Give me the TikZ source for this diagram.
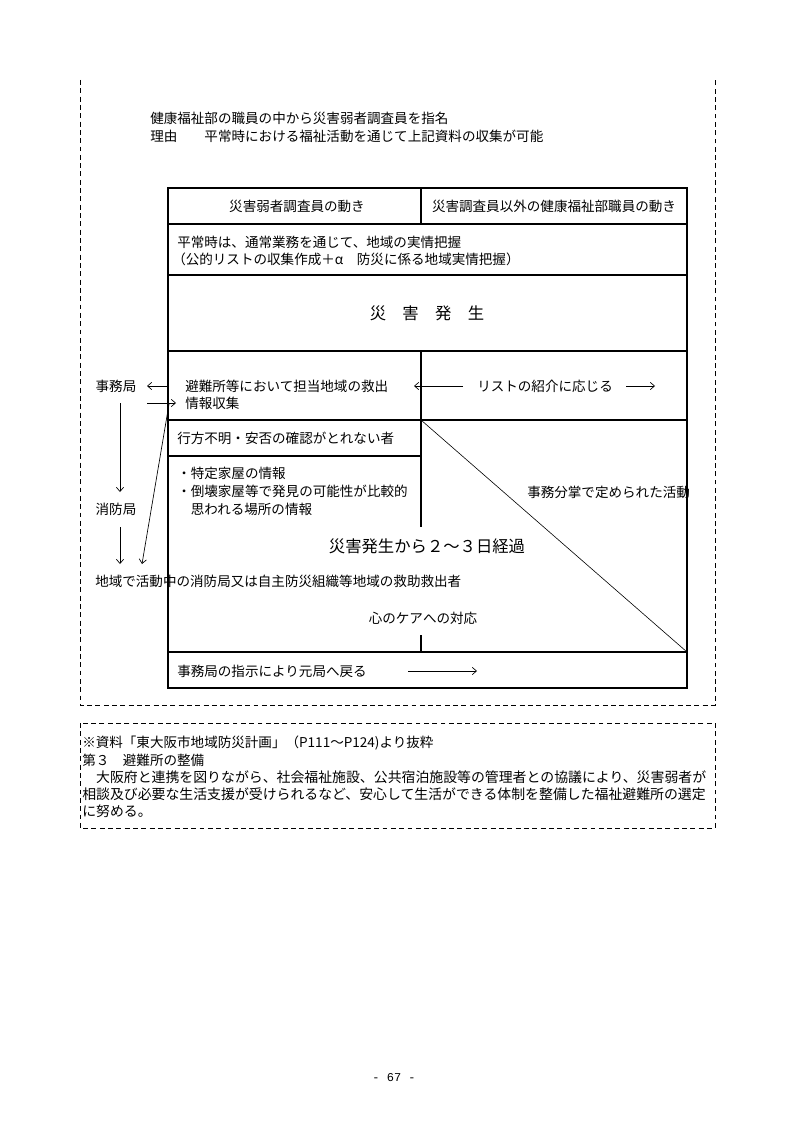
\documentclass[tikz,border=0pt]{standalone}
\usepackage{fontspec}
\setmainfont{Noto Sans CJK JP}
\newfontfamily\pagenofont{Liberation Mono}
\usetikzlibrary{arrows.meta, positioning}

\begin{document}
\begin{tikzpicture}[
  x=0.2645mm, y=-0.2645mm,
  txt/.style={anchor=west, inner sep=0pt, font=\fontsize{10.2}{12}\selectfont},
  ctxt/.style={inner sep=0pt, font=\fontsize{10.2}{12}\selectfont},
  bigtxt/.style={inner sep=0pt, font=\fontsize{12.3}{14}\selectfont},
  frame/.style={line width=0.9pt},
  diag/.style={line width=0.45pt},
  arrow/.style={-{Straight Barb[length=3.2pt,width=5.5pt]}, line width=0.5pt},
  dashbox/.style={dash pattern=on 1.3mm off 0.9mm, line width=0.6pt}
]
\useasboundingbox (0,0) rectangle (794,1123);

% dashed frames
\draw[dashbox] (80,80) -- (80,705) -- (715,705) -- (715,80);
\draw[dashbox] (80,723) rectangle (715,828);

% heading
\node[txt] (assign) at (150,118) {健康福祉部の職員の中から災害弱者調査員を指名};
\node[txt] (reason) at (150,136) {理由　　平常時における福祉活動を通じて上記資料の収集が可能};

% table
\draw[frame] (168,188) rectangle (687,688);
\foreach \y in {224,275,351,420}
  \draw[frame] (168,\y) -- (687,\y);
\draw[frame] (168,456) -- (421,456);
\draw[frame] (168,652) -- (687,652);
\draw[frame] (421,188) -- (421,224);
\draw[frame] (421,351) -- (421,527);
\draw[frame] (421,635) -- (421,652);
\draw[diag] (421,420) -- (687,652);

\node[ctxt] (headl) at (297,206) {災害弱者調査員の動き};
\node[ctxt] (headr) at (554,206) {災害調査員以外の健康福祉部職員の動き};
\node[txt] (usual1) at (177,242) {平常時は、通常業務を通じて、地域の実情把握};
\node[txt] (usual2) at (172,259) {（公的リストの収集作成＋α　防災に係る地域実情把握）};
\node[bigtxt] (occur) at (427,313) {災　害　発　生};

\node[txt] (rescue) at (185,386) {避難所等において担当地域の救出};
\node[txt] (collect) at (185,403) {情報収集};
\node[txt] (listref) at (477,386) {リストの紹介に応じる};
\node[txt] (missing) at (177,438) {行方不明・安否の確認がとれない者};
\node[txt] (house1) at (177,473) {・特定家屋の情報};
\node[txt] (house2) at (177,491) {・倒壊家屋等で発見の可能性が比較的};
\node[txt] (house3) at (177,509) {　思われる場所の情報};
\node[txt] (duty) at (527,492) {事務分掌で定められた活動};
\node[bigtxt] (days) at (427,546) {災害発生から２～３日経過};
\node[ctxt] (care) at (423,618) {心のケアへの対応};
\node[txt] (back) at (177,671) {事務局の指示により元局へ戻る};

% left side
\node[ctxt] (jimu) at (116,386) {事務局};
\node[ctxt] (shobo) at (116,509) {消防局};
\node[txt] (helpers) at (95,581) {地域で活動中の消防局又は自主防災組織等地域の救助救出者};

\coordinate (jimuin) at (147,386);
\coordinate (rescuein) at (169,386);
\coordinate (collectout) at (147,403);
\coordinate (collectin) at (176,403);
\coordinate (jimudown) at (120,403);
\coordinate (shoboup) at (120,492);
\coordinate (shobodown) at (120,527);
\coordinate (helpup) at (120,564);
\coordinate (slantstart) at (169,404);
\coordinate (slantend) at (142,564);

\draw[arrow] (rescuein) -- (jimuin);
\draw[arrow] (collectout) -- (collectin);
\draw[arrow] (jimudown) -- (shoboup);
\draw[arrow] (shobodown) -- (helpup);
\draw[arrow] (slantstart) -- (slantend);

% right side arrows
\coordinate (listl) at (463,386);
\coordinate (listtip) at (414,386);
\coordinate (listr) at (626,386);
\coordinate (listrtip) at (655,386);
\draw[arrow] (listl) -- (listtip);
\draw[arrow] (listr) -- (listrtip);
\coordinate (backl) at (408,671);
\coordinate (backr) at (477,671);
\draw[arrow] (backl) -- (backr);

% excerpt
\node[txt] (src) at (82,743) {※資料「東大阪市地域防災計画」（P111～P124)より抜粋};
\node[txt] (sec) at (82,760) {第３　避難所の整備};
\node[txt, font=\fontsize{10.45}{12}\selectfont] (para1) at (82,777) {　大阪府と連携を図りながら、社会福祉施設、公共宿泊施設等の管理者との協議により、災害弱者が};
\node[txt, font=\fontsize{10.45}{12}\selectfont] (para2) at (82,794) {相談及び必要な生活支援が受けられるなど、安心して生活ができる体制を整備した福祉避難所の選定};
\node[txt, font=\fontsize{10.45}{12}\selectfont] (para3) at (82,811) {に努める。};

% page number
\node[inner sep=0pt, font=\pagenofont\fontsize{9}{10}\selectfont] (pageno) at (394,1078) {- 67 -};
\end{tikzpicture}
\end{document}
